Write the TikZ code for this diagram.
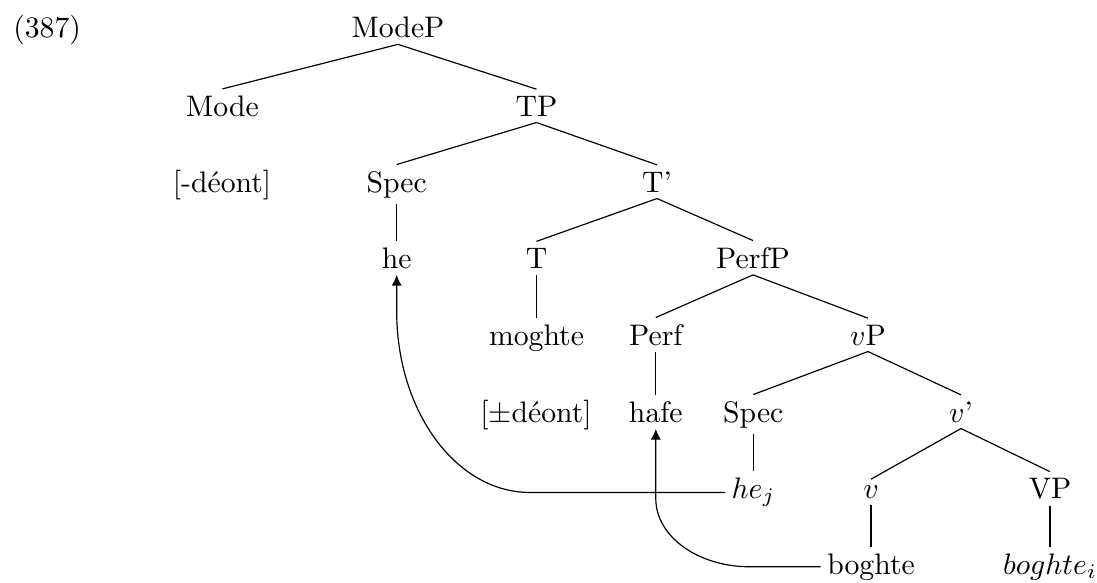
\documentclass[tikz,border=0pt]{standalone}
\usetikzlibrary{arrows.meta,calc}
\begin{document}
\begin{tikzpicture}[x=0.3367pt,y=-0.3367pt,
  tn/.style={anchor=base,inner sep=2pt},
  edge/.style={line width=0.4pt},
  mv/.style={line width=0.4pt,-{Latex[length=3.6pt,width=3.4pt]}}]
\useasboundingbox (0,0) rectangle (1097,582);
\node[anchor=base west,inner sep=0pt] (ex) at (12.7,37.5) {(387)};
\node[tn] (ModeP) at (398,37.5) {ModeP};
\node[tn] (Mode) at (222.5,116) {Mode};
\node[tn] (TP) at (536.5,116) {TP};
\node[tn] (deont) at (222,192) {[-déont]};
\node[tn] (SpecT) at (396.7,192) {Spec};
\node[tn] (Tbar) at (657,192) {T'};
\node[tn] (he) at (396.7,268) {he};
\node[tn] (T) at (536.5,268) {T};
\node[tn] (PerfP) at (753,268) {PerfP};
\node[tn] (moghte) at (536.5,345) {moghte};
\node[tn] (Perf) at (655.8,345) {Perf};
\node[tn] (vP) at (868,345) {$v$P};
\node[tn] (pmdeont) at (536,422) {[$\pm$déont]};
\node[tn] (hafe) at (655.8,422) {hafe};
\node[tn] (Specv) at (753.3,422) {Spec};
\node[tn] (vbar) at (961,422) {$v$'};
\node[tn] (hej) at (753.3,498.5) {$he_j$};
\node[tn] (v) at (871,498.5) {$v$};
\node[tn] (VP) at (1050,498.5) {VP};
\node[tn] (boghte) at (871,574) {boghte};
\node[tn] (boghtei) at (1050,574) {$boghte_i$};
% tree edges
\draw[edge] (ModeP.south) -- (Mode.north);
\draw[edge] (ModeP.south) -- (TP.north);
\draw[edge] (TP.south) -- (SpecT.north);
\draw[edge] (TP.south) -- (Tbar.north);
\draw[edge] (SpecT.south) -- (he.north);
\draw[edge] (Tbar.south) -- (T.north);
\draw[edge] (Tbar.south) -- (PerfP.north);
\draw[edge] (T.south) -- (moghte.north);
\draw[edge] (PerfP.south) -- (Perf.north);
\draw[edge] (PerfP.south) -- (vP.north);
\draw[edge] (Perf.south) -- (hafe.north);
\draw[edge] (vP.south) -- (Specv.north);
\draw[edge] (vP.south) -- (vbar.north);
\draw[edge] (Specv.south) -- (hej.north);
\draw[edge] (vbar.south) -- (v.north);
\draw[edge] (vbar.south) -- (VP.north);
\draw[edge] (v.south) -- (boghte.north);
\draw[edge] (VP.south) -- (boghtei.north);
% movement arrows
\coordinate (c1) at (he.south |- hej.west);
\draw[mv] (hej.west) -- ($(c1)+(133,0)$) .. controls ($(c1)+(59.6,0)$) and ($(c1)+(0,-81)$) .. ($(c1)+(0,-181)$) -- (he.south);
\coordinate (c2) at (hafe.south |- boghte.west);
\draw[mv] (boghte.west) -- ($(c2)+(94,0)$) .. controls ($(c2)+(42,0)$) and ($(c2)+(0,-30.5)$) .. ($(c2)+(0,-68)$) -- (hafe.south);
\end{tikzpicture}
\end{document}
